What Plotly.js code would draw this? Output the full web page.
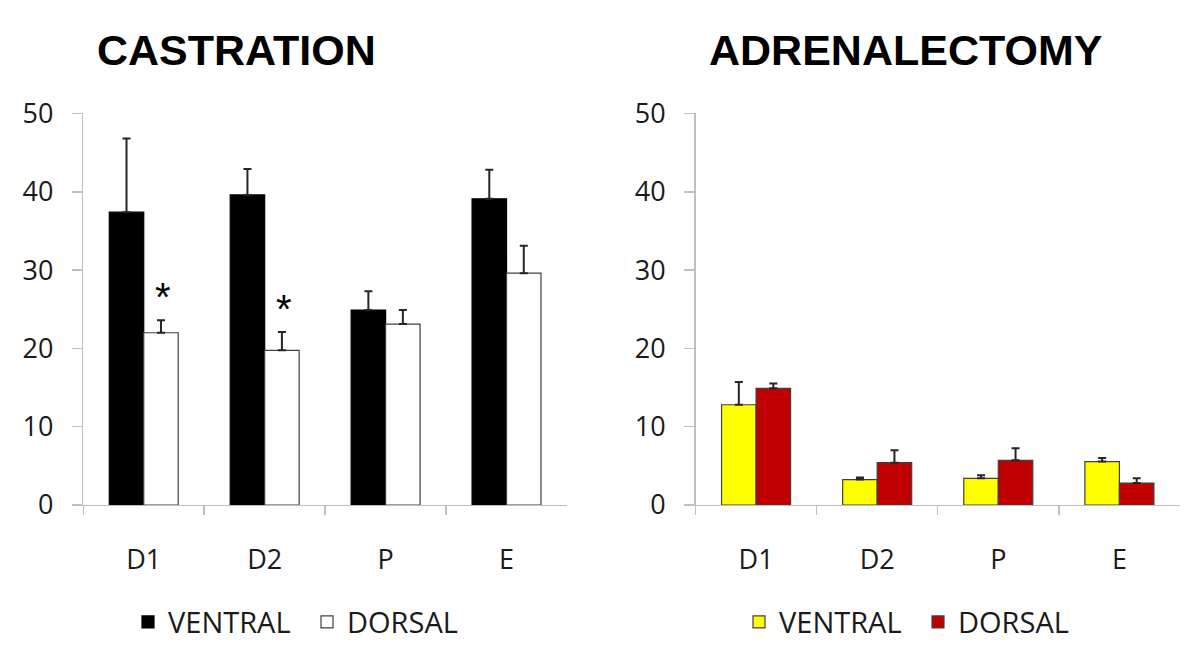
<!DOCTYPE html>
<html><head><meta charset="utf-8">
<script src="https://cdn.plot.ly/plotly-3.0.1.min.js"></script>
<style>html,body{margin:0;padding:0;background:#fff}</style>
</head><body><div id="chart" style="width:1200px;height:650px"></div>
<script>
const categories = ['D1','D2','P','E'];
const seriesNames = ['VENTRAL','DORSAL'];
const panelTitles = ['CASTRATION','ADRENALECTOMY'];
const castrationVentral = [37.4, 39.6, 24.9, 39.1];
const castrationVentralErr = [9.4, 3.3, 2.4, 3.7];
const castrationDorsal = [22.0, 19.75, 23.1, 29.6];
const castrationDorsalErr = [1.6, 2.35, 1.8, 3.5];
const castrationSig = ['*','*','',''];
const adrenVentral = [12.8, 3.25, 3.4, 5.55];
const adrenVentralErr = [2.9, 0.25, 0.4, 0.45];
const adrenDorsal = [14.9, 5.4, 5.7, 2.8];
const adrenDorsalErr = [0.6, 1.6, 1.55, 0.6];
const yTicks = [0,10,20,30,40,50];

const zeros = categories.map(()=>0);
const tickFont = {family:'Open Sans', size:27, color:'#1a1a1a'};
const errStyle = (arr)=>({type:'data', symmetric:false, array:arr, arrayminus:zeros, color:'#262626', thickness:2, width:4});

function bar(y, err, name, fill, line, xa, ya, leg){
  return {type:'bar', x:categories, y:y, name:name, xaxis:xa, yaxis:ya, legend:leg,
    marker:{color:fill, line:{color:line, width:1.2}}, error_y:errStyle(err), hoverinfo:'skip'};
}
const data = [
  bar(castrationVentral, castrationVentralErr, seriesNames[0], '#000000', '#000000', 'x', 'y', 'legend'),
  bar(castrationDorsal, castrationDorsalErr, seriesNames[1], '#ffffff', '#404040', 'x', 'y', 'legend'),
  bar(adrenVentral, adrenVentralErr, seriesNames[0], '#ffff00', '#404040', 'x2', 'y2', 'legend2'),
  bar(adrenDorsal, adrenDorsalErr, seriesNames[1], '#c00000', '#404040', 'x2', 'y2', 'legend2')
];

function xax(dom, anchor){
  return {domain:dom, anchor:anchor, type:'category', showline:true, linecolor:'#bfbfbf', linewidth:1.5,
    ticks:'outside', tickson:'boundaries', ticklen:9, tickcolor:'#bfbfbf', tickwidth:1.5,
    showgrid:false, zeroline:false, tickfont:tickFont, ticklabelstandoff:30, automargin:false, fixedrange:true};
}
function yax(anchor){
  return {domain:[0.2231,0.8254], anchor:anchor, range:[0,50], tickvals:yTicks, showline:true, linecolor:'#bfbfbf', linewidth:1.5,
    ticks:'outside', ticklen:10, tickcolor:'#bfbfbf', tickwidth:1.5, showgrid:false, zeroline:false,
    tickfont:tickFont, ticklabelstandoff:13, automargin:false, fixedrange:true};
}

const annotations = [];
annotations.push({xref:'paper', yref:'paper', x:236/1200, y:(650-50)/650, xanchor:'center', yanchor:'middle', showarrow:false,
  text:'<b>'+panelTitles[0]+'</b>', font:{family:'Liberation Sans', size:43, color:'#000'}});
annotations.push({xref:'paper', yref:'paper', x:905/1200, y:(650-50)/650, xanchor:'center', yanchor:'middle', showarrow:false,
  text:'<b>'+panelTitles[1]+'</b>', font:{family:'Liberation Sans', size:43, color:'#000'}});
categories.forEach((c,i)=>{
  if(castrationSig[i]){
    annotations.push({xref:'x', yref:'y', x:c, y:castrationDorsal[i]+castrationDorsalErr[i]+3.5, xshift:19, yshift:-4, yanchor:'middle',
      showarrow:false, text:castrationSig[i], font:{family:'Liberation Sans', size:40, color:'#000'}});
  }
});

const legendBase = {orientation:'h', xanchor:'left', yanchor:'middle', y:0.043, itemwidth:30, entrywidth:134, entrywidthmode:'pixels',
  font:{family:'Open Sans', size:29, color:'#1a1a1a'}, bgcolor:'rgba(0,0,0,0)', traceorder:'normal'};

const layout = {
  width:1200, height:650, margin:{l:0,r:0,t:0,b:0}, paper_bgcolor:'#fff', plot_bgcolor:'#fff',
  barmode:'group', bargap:0.43, bargroupgap:0, showlegend:true,
  xaxis:xax([0.0694,0.4725],'y'), yaxis:yax('x'),
  xaxis2:xax([0.5796,0.9833],'y2'), yaxis2:yax('x2'),
  legend:Object.assign({}, legendBase, {x:128/1200}),
  legend2:Object.assign({}, legendBase, {x:739/1200}),
  annotations:annotations
};
Plotly.newPlot('chart', data, layout, {displayModeBar:false, staticPlot:true});
</script></body></html>
